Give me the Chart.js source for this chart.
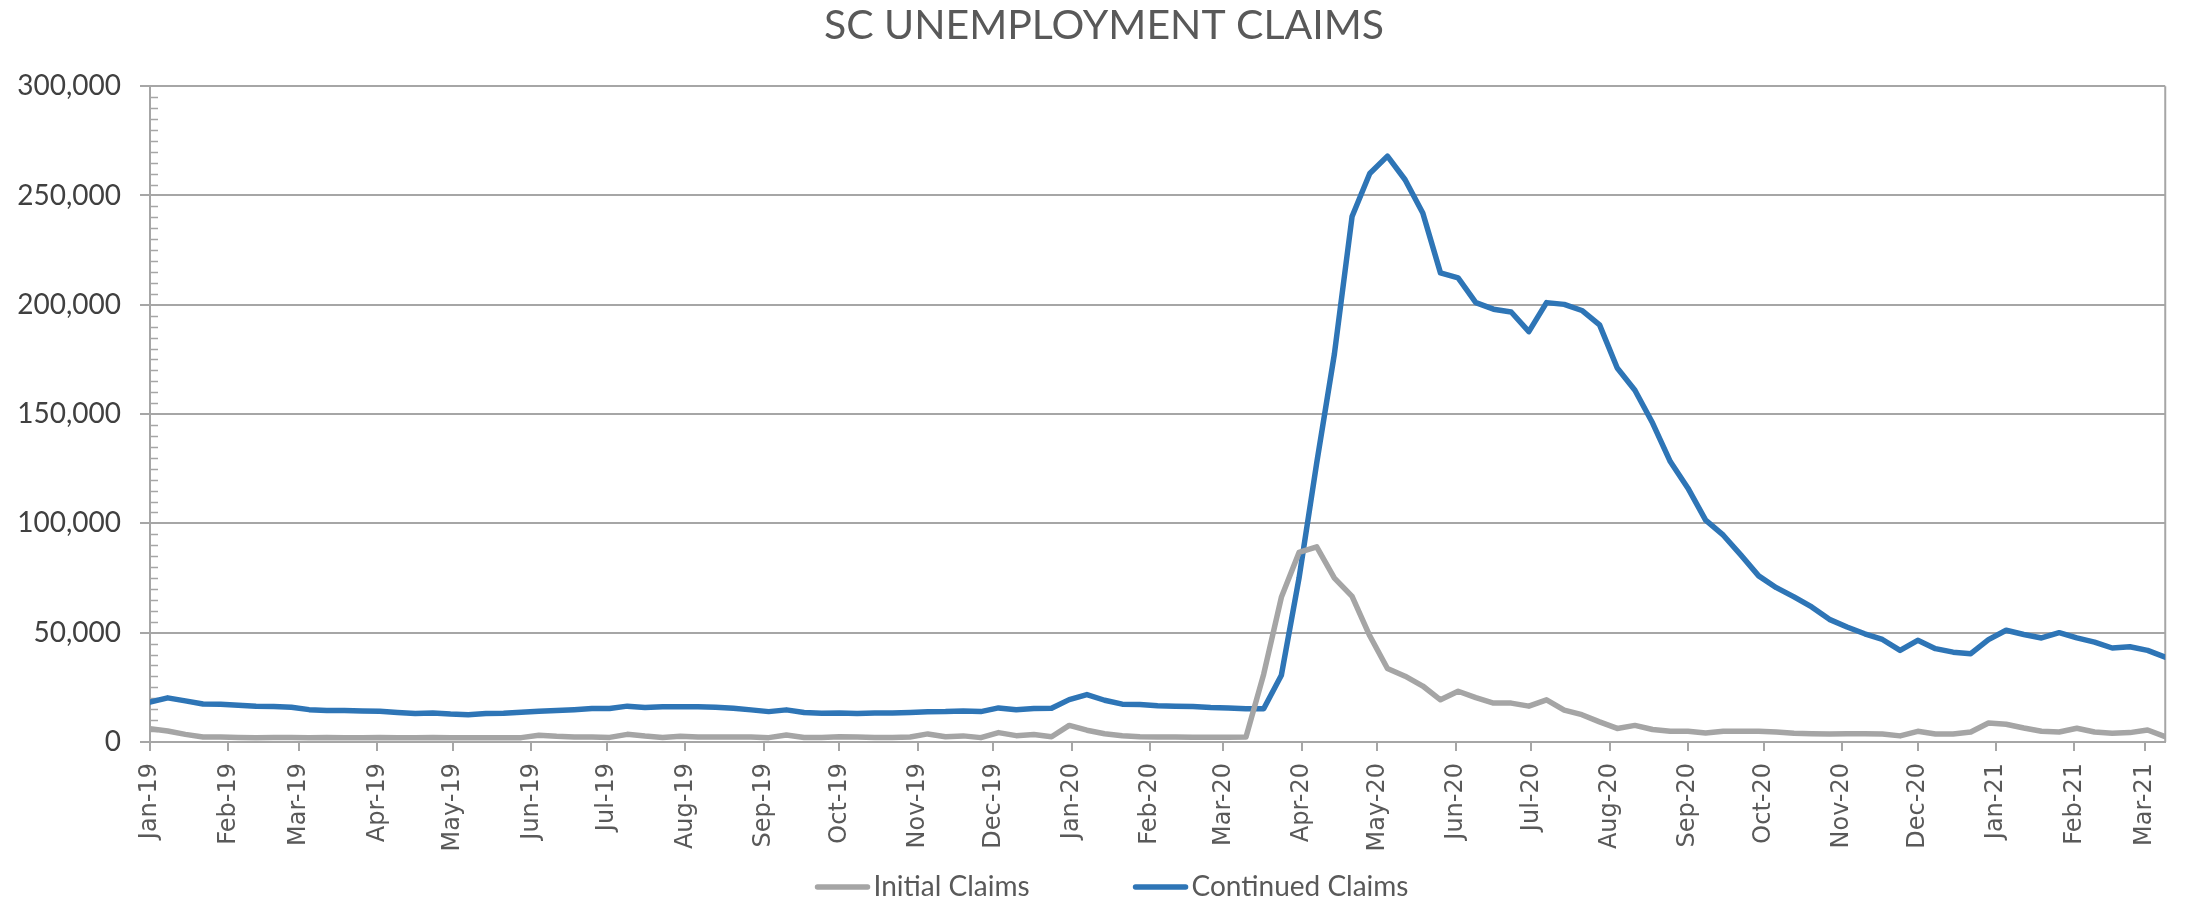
<!DOCTYPE html>
<html>
<head>
<meta charset="utf-8">
<script src="https://cdn.jsdelivr.net/npm/chart.js@4.4.1/dist/chart.umd.min.js"></script>
<style>
html,body{margin:0;padding:0;background:#ffffff;}
#wrap{width:2186px;height:904px;position:relative;}
</style>
</head>
<body>
<div id="wrap"><canvas id="c" width="2186" height="904"></canvas></div>
<script>
// ---- DATA ----
const chartTitle = 'SC UNEMPLOYMENT CLAIMS';
const firstWeekEnding = [2019, 0, 5];   // weekly data, week ending Sat 5 Jan 2019
const weekCount = 115;
const tickLabels = ['Jan-19','Feb-19','Mar-19','Apr-19','May-19','Jun-19','Jul-19','Aug-19','Sep-19','Oct-19','Nov-19','Dec-19',
  'Jan-20','Feb-20','Mar-20','Apr-20','May-20','Jun-20','Jul-20','Aug-20','Sep-20','Oct-20','Nov-20','Dec-20',
  'Jan-21','Feb-21','Mar-21'];
const seriesNames = ['Initial Claims', 'Continued Claims'];
const initialClaims = [
  6100,5000,3500,2300,2300,2100,2000,2100,2100,2000,2100,2000,2000,2100,2000,2000,2100,2000,2000,2000,
  2000,2000,3100,2600,2300,2300,2100,3500,2700,2100,2600,2300,2300,2300,2300,2000,3200,2100,2100,2400,
  2300,2100,2100,2300,3700,2400,2800,2000,4300,2900,3400,2400,7600,5400,3800,2900,2400,2300,2300,2200,
  2200,2200,2300,31000,66200,86700,89300,75000,66600,48600,33600,30100,25600,19300,23200,20300,17800,17800,16400,19300,
  14600,12500,9200,6200,7600,5700,4900,4900,4100,4900,4900,4900,4600,4000,3800,3700,3800,3800,3700,2800,
  4900,3700,3700,4600,8700,8100,6400,4900,4600,6300,4600,4000,4300,5500,2400
];
const continuedClaims = [
  18300,20200,18800,17400,17300,16800,16400,16200,15900,14800,14400,14400,14200,14100,13500,13000,13300,12800,12500,13000,
  13100,13600,14100,14400,14800,15300,15300,16400,15800,16100,16100,16100,15900,15400,14700,13900,14700,13500,13100,13300,
  13000,13300,13300,13500,13800,13900,14200,13900,15600,14800,15300,15400,19400,21700,19100,17300,17100,16600,16400,16200,
  15800,15600,15200,15200,30500,75000,127700,177500,240400,260100,268000,257200,242000,214600,212300,201000,198000,196700,187700,201000,
  200200,197400,190800,171100,160900,145900,128300,116100,101500,94600,85500,76000,70600,66400,61800,56100,52600,49500,46900,41900,
  46500,42700,41100,40400,46800,51100,49200,47600,50000,47600,45700,43000,43600,41900,38800
];
const yMax = 300000;
const yStep = 50000;
const yMinorStep = 5000;

// ---- helpers (date -> day offset) ----
const DAY = 86400000;
const base = Date.UTC(firstWeekEnding[0], firstWeekEnding[1], firstWeekEnding[2]);
const weekDays = Array.from({length: weekCount}, (_, i) => i * 7);
const tickDays = tickLabels.map((_, m) =>
  (Date.UTC(firstWeekEnding[0], firstWeekEnding[1] + m, firstWeekEnding[2]) - base) / DAY);
const toPoints = arr => arr.map((v, i) => ({x: weekDays[i], y: v}));

const GRID = '#a6a6a6';
const GRAY = '#a5a5a5';
const BLUE = '#2e75b6';

const minorTicks = {
  id: 'minorTicks',
  afterLayout(chart) {
    // nudge title to match reference centring
    if (chart.titleBlock) { chart.titleBlock.left += 19; chart.titleBlock.right += 19; }
  },
  beforeDatasetsDraw(chart) {
    const y = chart.scales.y, a = chart.chartArea, ctx = chart.ctx;
    ctx.save();
    ctx.strokeStyle = GRID; ctx.lineWidth = 1.5;
    for (let v = yMinorStep; v < yMax; v += yMinorStep) {
      if (v % yStep === 0) continue;
      const py = Math.round(y.getPixelForValue(v)) + 0.5;
      ctx.beginPath(); ctx.moveTo(a.left, py); ctx.lineTo(a.left + 8, py); ctx.stroke();
    }
    // plot-area right border
    ctx.lineWidth = 2;
    ctx.beginPath(); ctx.moveTo(a.right, a.top); ctx.lineTo(a.right, a.bottom); ctx.stroke();
    ctx.restore();
  }
};

const refLegend = {
  id: 'refLegend',
  afterDraw(chart) {
    const ctx = chart.ctx;
    ctx.save();
    ctx.font = '28px Lato';
    ctx.textBaseline = 'middle';
    const sample = 54, gapText = 4, gapItem = 104;
    const ds = chart.data.datasets;
    const widths = ds.map(d => ctx.measureText(d.label).width);
    const total = ds.length * (sample + gapText) + widths.reduce((s, w) => s + w, 0) + gapItem * (ds.length - 1);
    let x = 1112 - total / 2;
    const yy = 887;
    ds.forEach((d, i) => {
      ctx.strokeStyle = d.borderColor; ctx.lineWidth = 5.5; ctx.lineCap = 'round';
      ctx.beginPath(); ctx.moveTo(x + 2, yy); ctx.lineTo(x + sample - 2, yy); ctx.stroke();
      ctx.fillStyle = '#595959';
      ctx.fillText(d.label, x + sample + gapText, yy);
      x += sample + gapText + widths[i] + gapItem;
    });
    ctx.restore();
  }
};

new Chart(document.getElementById('c'), {
  type: 'line',
  data: {
    datasets: [
      {label: seriesNames[0], data: toPoints(initialClaims), borderColor: GRAY, backgroundColor: GRAY,
       borderWidth: 5.5, pointRadius: 0, tension: 0, borderJoinStyle: 'round', borderCapStyle: 'round'},
      {label: seriesNames[1], data: toPoints(continuedClaims), borderColor: BLUE, backgroundColor: BLUE,
       borderWidth: 5.5, pointRadius: 0, tension: 0, borderJoinStyle: 'round', borderCapStyle: 'round'}
    ]
  },
  options: {
    responsive: false,
    animation: false,
    layout: {padding: {left: 0, right: 16, top: 0, bottom: 0}},
    plugins: {
      legend: {display: false},
      tooltip: {enabled: false},
      title: {
        display: true, text: chartTitle, color: '#595959',
        font: {family: 'Lato', size: 41, weight: 'normal', lineHeight: 1.2},
        padding: {top: 1, bottom: 36}
      }
    },
    scales: {
      x: {
        type: 'linear', min: 0, max: weekDays[weekDays.length - 1],
        afterBuildTicks: s => { s.ticks = tickDays.map(v => ({value: v})); },
        afterFit: s => { s.height = 162; },
        grid: {drawOnChartArea: false, drawTicks: true, tickLength: 9, color: GRID, lineWidth: 2},
        border: {display: true, color: GRID, width: 2},
        ticks: {
          autoSkip: false, minRotation: 90, maxRotation: 90, padding: 12,
          color: '#595959', font: {family: 'DejaVu Sans', size: 24},
          callback: (v, i) => tickLabels[i]
        }
      },
      y: {
        min: 0, max: yMax,
        afterFit: s => { s.width = 150; },
        grid: {color: GRID, lineWidth: 2, drawTicks: true, tickLength: 10},
        border: {display: true, color: GRID, width: 2},
        ticks: {
          stepSize: yStep, padding: 19, color: '#404040',
          font: {family: 'Lato', size: 28},
          callback: v => v.toLocaleString('en-US')
        }
      }
    }
  },
  plugins: [minorTicks, refLegend]
});
</script>
</body>
</html>
